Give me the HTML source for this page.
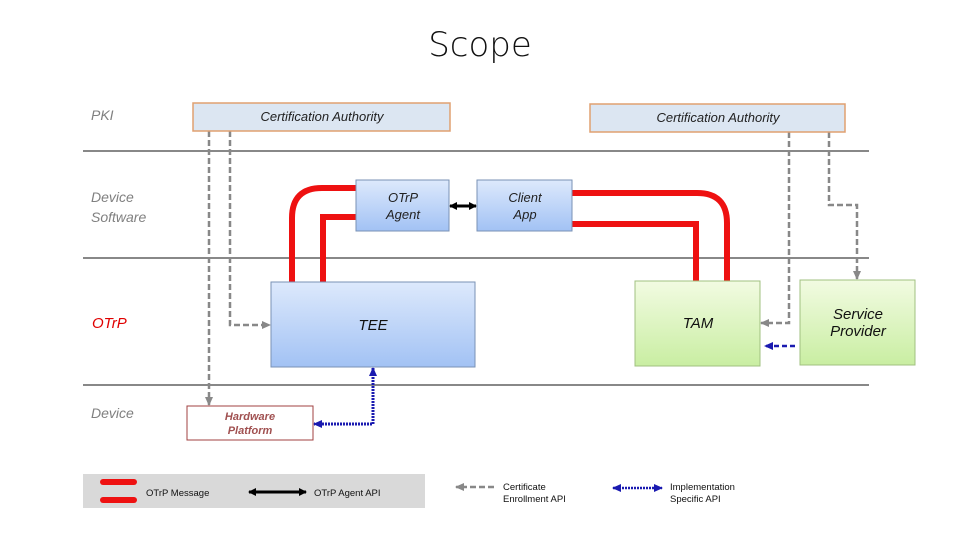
<!DOCTYPE html>
<html><head><meta charset="utf-8"><style>body{margin:0;background:#fff}svg{display:block}text{font-family:"Liberation Sans",sans-serif}</style></head><body>
<svg width="960" height="540" viewBox="0 0 960 540">
<defs>
<linearGradient id="b" x1="0" y1="0" x2="0" y2="1"><stop offset="0" stop-color="#dde9fc"/><stop offset="1" stop-color="#a2c2f4"/></linearGradient>
<linearGradient id="g" x1="0" y1="0" x2="0" y2="1"><stop offset="0" stop-color="#f2fbe2"/><stop offset="1" stop-color="#c9eea2"/></linearGradient>
<marker id="ag" markerUnits="userSpaceOnUse" markerWidth="9" markerHeight="8" refX="8" refY="4" orient="auto"><path d="M0,0L9,4L0,8z" fill="#888"/></marker>
<marker id="ab" markerUnits="userSpaceOnUse" markerWidth="9" markerHeight="8" refX="8" refY="4" orient="auto"><path d="M0,0L9,4L0,8z" fill="#1a1ab0"/></marker>
<marker id="abs" markerUnits="userSpaceOnUse" markerWidth="9" markerHeight="8" refX="1" refY="4" orient="auto"><path d="M9,0L0,4L9,8z" fill="#1a1ab0"/></marker>
<marker id="ak" markerUnits="userSpaceOnUse" markerWidth="8" markerHeight="8" refX="7" refY="4" orient="auto"><path d="M0,0L8,4L0,8z" fill="#000"/></marker>
<marker id="aks" markerUnits="userSpaceOnUse" markerWidth="8" markerHeight="8" refX="1" refY="4" orient="auto"><path d="M8,0L0,4L8,8z" fill="#000"/></marker>
</defs>
<text x="480" y="56" font-size="34" text-anchor="middle" fill="#111" style="font-family:'DejaVu Sans','Liberation Sans',sans-serif;font-weight:300">Scope</text>
<g stroke="#888" stroke-width="2"><line x1="83" y1="151" x2="869" y2="151"/><line x1="83" y1="258" x2="869" y2="258"/><line x1="83" y1="385" x2="869" y2="385"/></g>
<g font-style="italic" fill="#808080" font-size="14"><text x="91" y="120">PKI</text><text x="91" y="202">Device</text><text x="91" y="222">Software</text><text x="91" y="418">Device</text></g>
<text x="92" y="328" font-size="15" font-style="italic" fill="#e00000">OTrP</text>
<g stroke="#ee1111" stroke-width="6" fill="none">
<path d="M356,188H322Q292,188 292,218V282"/><path d="M356,217H323V282"/>
<path d="M572,193H697Q727,193 727,223V281"/><path d="M572,224H696V281"/>
</g>
<g stroke="#888" stroke-width="2.5" stroke-dasharray="6,3" fill="none">
<path d="M209,131V405" marker-end="url(#ag)"/><path d="M230,131V325H270" marker-end="url(#ag)"/>
<path d="M789,132V323H761" marker-end="url(#ag)"/><path d="M829,132V205H857V279" marker-end="url(#ag)"/>
</g>
<path d="M795,346H765" stroke="#1a1ab0" stroke-width="2.5" stroke-dasharray="5,3" marker-end="url(#ab)"/>
<path d="M373,368V424H314" stroke="#1a1ab0" stroke-width="3" stroke-dasharray="2,1" fill="none" marker-end="url(#ab)" marker-start="url(#abs)"/>
<line x1="450" y1="206" x2="476" y2="206" stroke="#000" stroke-width="3" marker-end="url(#ak)" marker-start="url(#aks)"/>
<g stroke="#e0a070" stroke-width="1.5" fill="#dce6f2"><rect x="193" y="103" width="257" height="28"/><rect x="590" y="104" width="255" height="28"/></g>
<g font-size="13" font-style="italic" fill="#222" text-anchor="middle"><text x="322" y="121">Certification Authority</text><text x="718" y="122">Certification Authority</text></g>
<g stroke="#7a92b5" fill="url(#b)"><rect x="356" y="180" width="93" height="51"/><rect x="477" y="180" width="95" height="51"/><rect x="271" y="282" width="204" height="85"/></g>
<g font-size="13" font-style="italic" fill="#222" text-anchor="middle"><text x="403" y="202">OTrP</text><text x="403" y="219">Agent</text><text x="525" y="202">Client</text><text x="525" y="219">App</text></g>
<text x="373" y="330" font-size="15" font-style="italic" fill="#111" text-anchor="middle">TEE</text>
<g stroke="#a0c080" fill="url(#g)"><rect x="635" y="281" width="125" height="85"/><rect x="800" y="280" width="115" height="85"/></g>
<g font-size="15" font-style="italic" fill="#111" text-anchor="middle"><text x="698" y="328">TAM</text><text x="858" y="319">Service</text><text x="858" y="336">Provider</text></g>
<rect x="187" y="406" width="126" height="34" fill="#fff" stroke="#a04040"/>
<g font-size="11" font-style="italic" font-weight="bold" fill="#a05050" text-anchor="middle"><text x="250" y="420">Hardware</text><text x="250" y="434">Platform</text></g>
<rect x="83" y="474" width="342" height="34" fill="#d9d9d9"/>
<rect x="100" y="479" width="37" height="6" rx="3" fill="#ee1111"/><rect x="100" y="497" width="37" height="6" rx="3" fill="#ee1111"/>
<g font-size="9.5" fill="#111"><text x="146" y="496">OTrP Message</text><text x="314" y="496">OTrP Agent API</text><text x="503" y="490">Certificate</text><text x="503" y="502">Enrollment API</text><text x="670" y="490">Implementation</text><text x="670" y="502">Specific API</text></g>
<line x1="249" y1="492" x2="306" y2="492" stroke="#000" stroke-width="3" marker-end="url(#ak)" marker-start="url(#aks)"/>
<line x1="494" y1="487" x2="456" y2="487" stroke="#888" stroke-width="2.5" stroke-dasharray="6,3" marker-end="url(#ag)"/>
<line x1="613" y1="488" x2="662" y2="488" stroke="#1a1ab0" stroke-width="2.5" stroke-dasharray="2,1" marker-end="url(#ab)" marker-start="url(#abs)"/>
</svg>
</body></html>
